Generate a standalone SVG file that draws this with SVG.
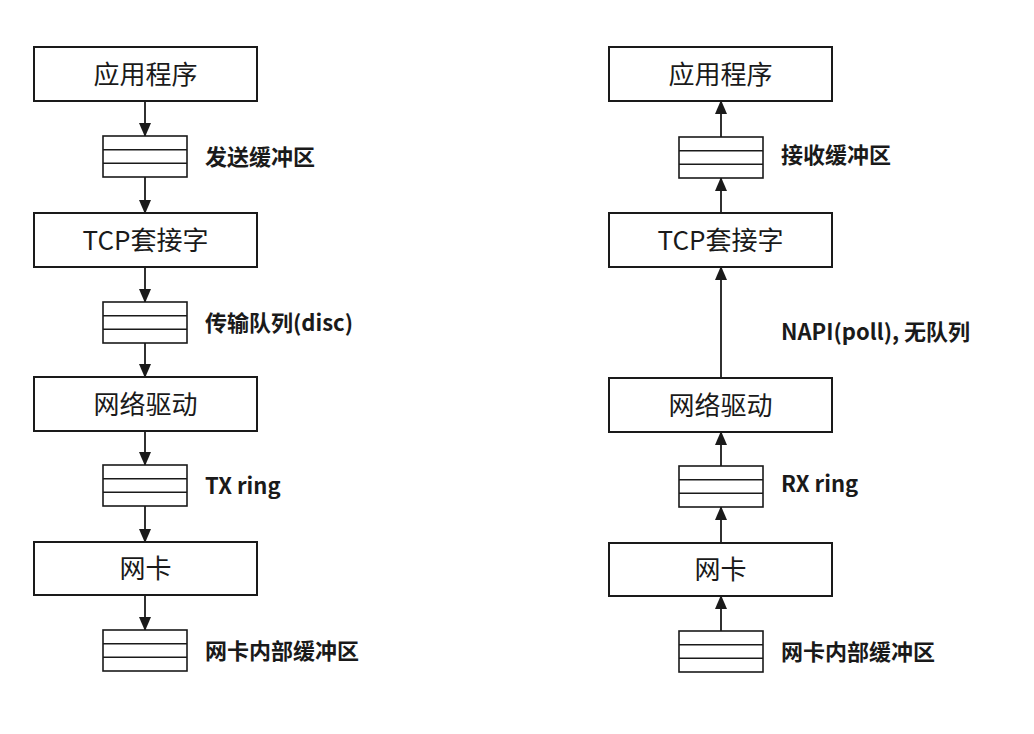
<svg xmlns="http://www.w3.org/2000/svg" width="1034" height="734" viewBox="0 0 1034 734">
<style>
.box{fill:#fff;stroke:#1a1a1a;stroke-width:2}
.buf{fill:#fff;stroke:#1a1a1a;stroke-width:1.6}
.bl{stroke:#1a1a1a;stroke-width:1.6}
.bt{font-family:"Noto Sans CJK SC","Liberation Sans",sans-serif;font-size:26px;font-weight:400;fill:#1a1a1a;text-anchor:middle}
.lt{font-family:"Noto Sans CJK SC","Liberation Sans",sans-serif;font-size:22px;font-weight:700;fill:#1a1a1a}
.arr{stroke:#1a1a1a;stroke-width:1.8;fill:none;marker-end:url(#ah)}
</style>
<defs>
<marker id="ah" viewBox="0 0 14 12" refX="13" refY="6" markerWidth="14" markerHeight="12" markerUnits="userSpaceOnUse" orient="auto">
<path d="M0,0 L14,6 L0,12 z" fill="#1a1a1a"/>
</marker>
<g id="bufshape">
<rect class="buf" x="0" y="0" width="84" height="41"/>
<line class="bl" x1="0" y1="13.7" x2="84" y2="13.7"/>
<line class="bl" x1="0" y1="27.3" x2="84" y2="27.3"/>
</g>
</defs>
<rect width="1034" height="734" fill="#fff"/>

<g id="connectors">
<line class="arr" x1="145" y1="101" x2="145" y2="136"/>
<line class="arr" x1="145" y1="177" x2="145" y2="213"/>
<line class="arr" x1="145" y1="267" x2="145" y2="302"/>
<line class="arr" x1="145" y1="343" x2="145" y2="377"/>
<line class="arr" x1="145" y1="431" x2="145" y2="465"/>
<line class="arr" x1="145" y1="506" x2="145" y2="542"/>
<line class="arr" x1="145" y1="595" x2="145" y2="630"/>
<line class="arr" x1="721" y1="137" x2="721" y2="101"/>
<line class="arr" x1="721" y1="213" x2="721" y2="178"/>
<line class="arr" x1="721" y1="378" x2="721" y2="267"/>
<line class="arr" x1="721" y1="466" x2="721" y2="432"/>
<line class="arr" x1="721" y1="543" x2="721" y2="507"/>
<line class="arr" x1="721" y1="631" x2="721" y2="596"/>
</g>

<g id="tx-app"><rect class="box" x="34" y="47" width="223" height="54"/><text class="bt" x="145.5" y="84">应用程序</text></g>
<g id="tx-sendbuf"><use href="#bufshape" x="103" y="136"/><text class="lt" x="205" y="165">发送缓冲区</text></g>
<g id="tx-tcp"><rect class="box" x="34" y="213" width="223" height="54"/><text class="bt" x="145.5" y="250">TCP套接字</text></g>
<g id="tx-disc"><use href="#bufshape" x="103" y="302"/><text class="lt" x="205" y="331">传输队列(disc)</text></g>
<g id="tx-driver"><rect class="box" x="34" y="377" width="223" height="54"/><text class="bt" x="145.5" y="414">网络驱动</text></g>
<g id="tx-ring"><use href="#bufshape" x="103" y="465"/><text class="lt" x="205" y="494">TX ring</text></g>
<g id="tx-nic"><rect class="box" x="34" y="542" width="223" height="53"/><text class="bt" x="145.5" y="578">网卡</text></g>
<g id="tx-nicbuf"><use href="#bufshape" x="103" y="630"/><text class="lt" x="205" y="659">网卡内部缓冲区</text></g>

<g id="rx-app"><rect class="box" x="609" y="47" width="223" height="54"/><text class="bt" x="720.5" y="84">应用程序</text></g>
<g id="rx-recvbuf"><use href="#bufshape" x="679" y="137"/><text class="lt" x="781" y="163">接收缓冲区</text></g>
<g id="rx-tcp"><rect class="box" x="609" y="213" width="223" height="54"/><text class="bt" x="720.5" y="250">TCP套接字</text></g>
<g id="rx-napi"><text class="lt" x="781" y="340">NAPI(poll), 无队列</text></g>
<g id="rx-driver"><rect class="box" x="609" y="378" width="223" height="54"/><text class="bt" x="720.5" y="415">网络驱动</text></g>
<g id="rx-ring"><use href="#bufshape" x="679" y="466"/><text class="lt" x="781" y="492">RX ring</text></g>
<g id="rx-nic"><rect class="box" x="609" y="543" width="223" height="53"/><text class="bt" x="720.5" y="579">网卡</text></g>
<g id="rx-nicbuf"><use href="#bufshape" x="679" y="631"/><text class="lt" x="781" y="660">网卡内部缓冲区</text></g>
</svg>
